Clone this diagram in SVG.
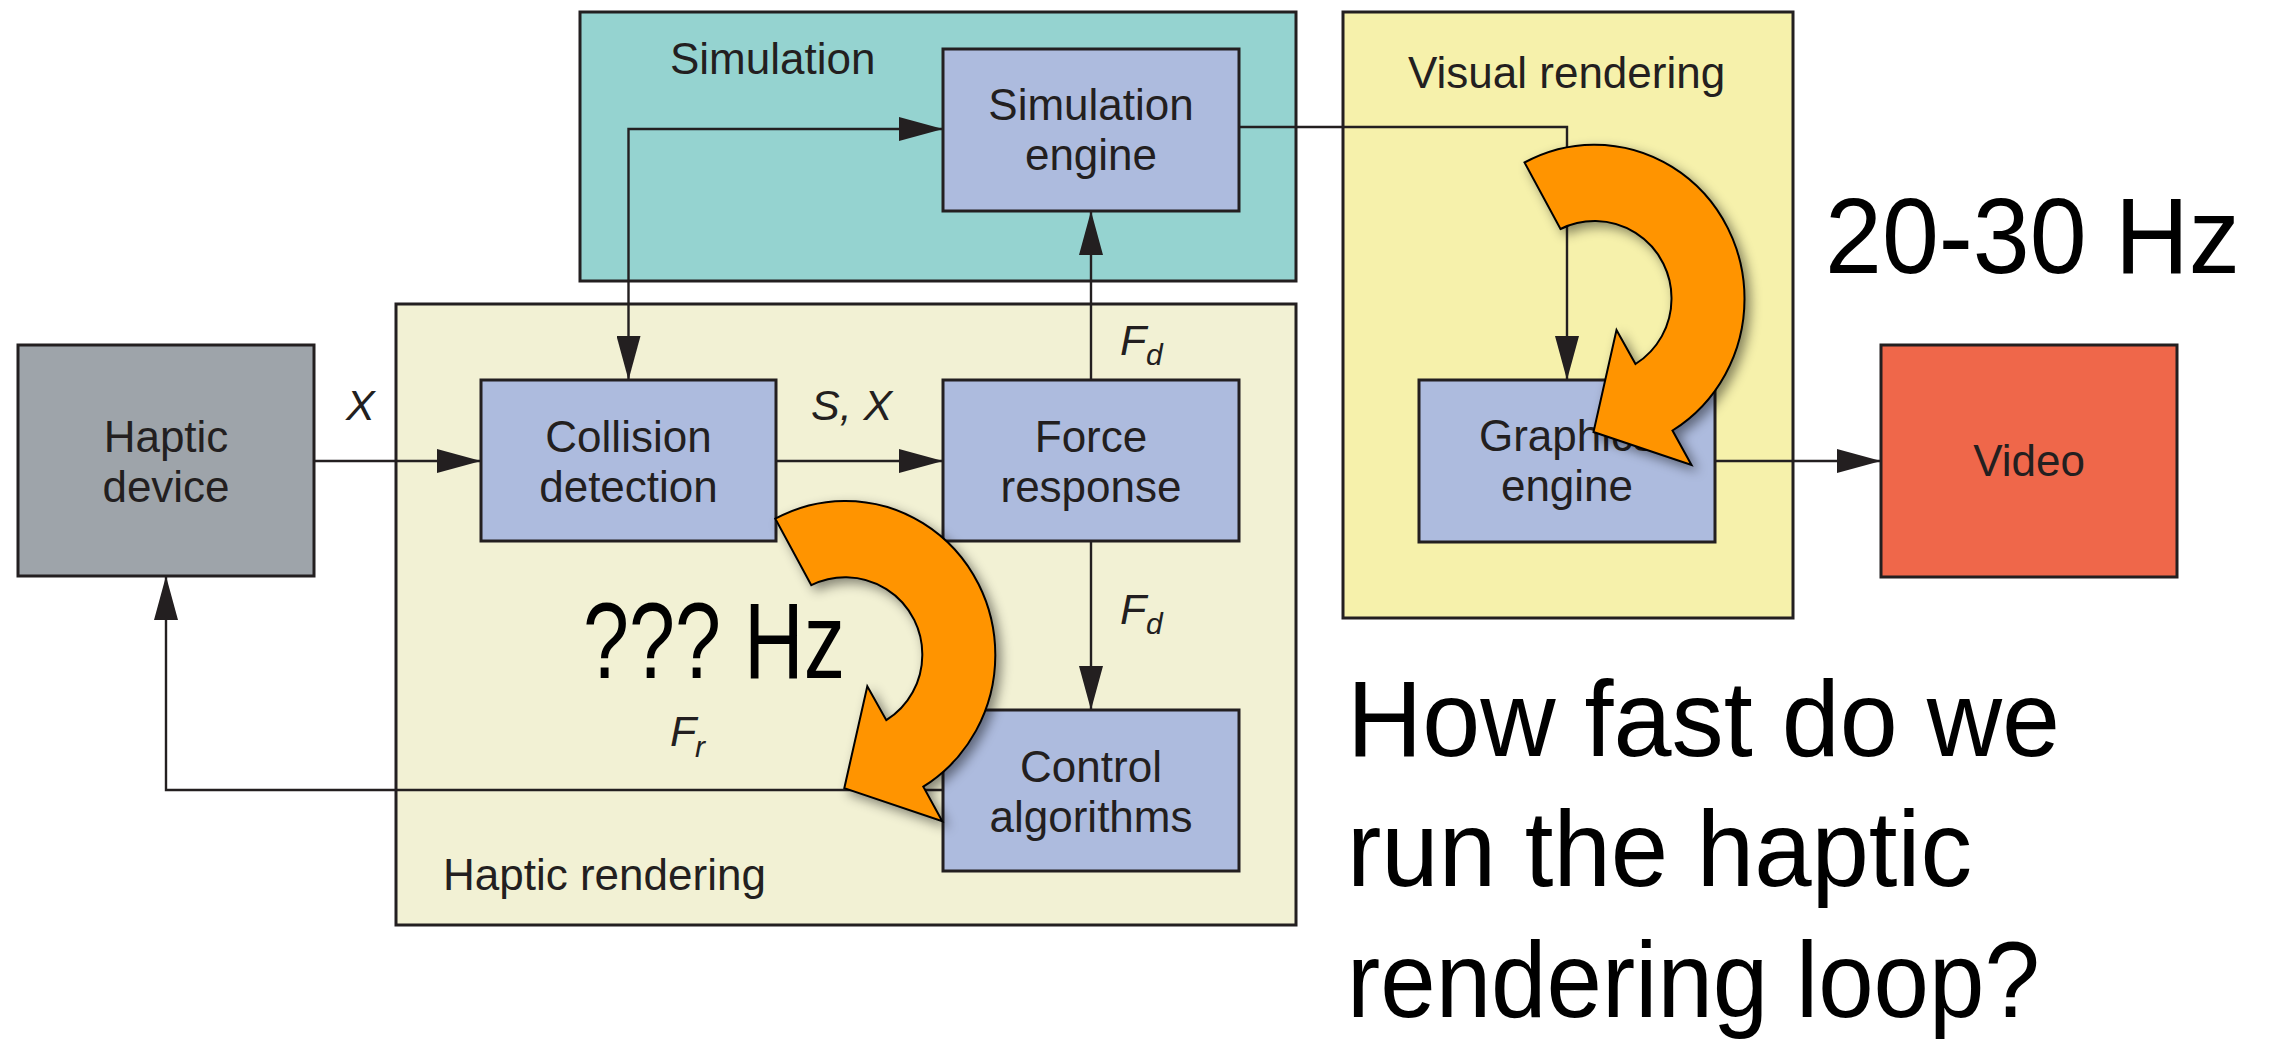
<svg xmlns="http://www.w3.org/2000/svg" width="2271" height="1039" viewBox="0 0 2271 1039">
  <style>
    .container { stroke: #231F20; stroke-width: 3; }
    .node { stroke: #231F20; stroke-width: 3; fill: #ADBBDE; }
    .lbl { font-family: "Liberation Sans", Arial, sans-serif; font-size: 44px; fill: #231F20; }
    .mid { text-anchor: middle; }
    .it { font-family: "Liberation Sans", Arial, sans-serif; font-size: 43px; font-style: italic; fill: #231F20; }
    .sub { font-size: 30px; }
    .conn { fill: none; stroke: #231F20; stroke-width: 2.4; }
    .big { font-family: "Liberation Sans", Arial, sans-serif; font-size: 108px; fill: #000000; }
    .loop { fill: #FF9402; stroke: #000000; stroke-width: 2; filter: url(#shadow); }
  </style>
  <defs>
    <marker id="arrow" markerUnits="userSpaceOnUse" markerWidth="44" markerHeight="24" refX="44" refY="12" orient="auto-start-reverse" viewBox="0 0 44 24">
      <path d="M0,0 L44,12 L0,24 Z" fill="#231F20"/>
    </marker>
    <filter id="shadow" x="-20%" y="-20%" width="150%" height="150%">
      <feDropShadow dx="5" dy="5" stdDeviation="6" flood-color="#000000" flood-opacity="0.45"/>
    </filter>
    <path id="loopArrow" d="M -70,-136.5 A 150 154 0 0 1 150 0 A 150 154 0 0 1 78 131.5 L 97 166 L -1 133 L 22 31 L 41 65 A 77 77 0 0 0 77 0 A 77 77 0 0 0 -34 -70 Z"/>
  </defs>

  <!-- containers -->
  <g id="simulation-group">
    <rect class="container" x="580" y="12" width="716" height="269" fill="#95D3D0"/>
    <text class="lbl" x="670" y="74">Simulation</text>
  </g>
  <g id="haptic-rendering-group">
    <rect class="container" x="396" y="304" width="900" height="621" fill="#F2F1D4"/>
    <text class="lbl" x="443" y="890">Haptic rendering</text>
  </g>
  <g id="visual-rendering-group">
    <rect class="container" x="1343" y="12" width="450" height="606" fill="#F6F1AB"/>
    <text class="lbl" x="1408" y="88">Visual rendering</text>
  </g>

  <!-- connectors -->
  <g id="connectors">
    <path class="conn" d="M314,461 H481" marker-end="url(#arrow)"/>
    <path class="conn" d="M776,461 H943" marker-end="url(#arrow)"/>
    <path class="conn" d="M628.5,380 V129 H943" marker-start="url(#arrow)" marker-end="url(#arrow)"/>
    <path class="conn" d="M1091,380 V211" marker-end="url(#arrow)"/>
    <path class="conn" d="M1091,541 V710" marker-end="url(#arrow)"/>
    <path class="conn" d="M943,790 H166 V576" marker-end="url(#arrow)"/>
    <path class="conn" d="M1239,127 H1567 V380" marker-end="url(#arrow)"/>
    <path class="conn" d="M1715,461 H1881" marker-end="url(#arrow)"/>
    <text class="it" x="346" y="420">X</text>
    <text class="it" x="811" y="420">S, X</text>
    <text class="it" x="1120" y="355">F<tspan class="sub" x="1146" y="365">d</tspan></text>
    <text class="it" x="1120" y="624">F<tspan class="sub" x="1146" y="634">d</tspan></text>
    <text class="it" x="670" y="746">F<tspan class="sub" x="695" y="757">r</tspan></text>
  </g>

  <!-- nodes -->
  <g id="haptic-device">
    <rect class="node" x="18" y="345" width="296" height="231" style="fill:#9EA4AA"/>
    <text class="lbl mid" x="166" y="452">Haptic</text>
    <text class="lbl mid" x="166" y="502">device</text>
  </g>
  <g id="collision-detection">
    <rect class="node" x="481" y="380" width="295" height="161"/>
    <text class="lbl mid" x="628.5" y="452">Collision</text>
    <text class="lbl mid" x="628.5" y="502">detection</text>
  </g>
  <g id="force-response">
    <rect class="node" x="943" y="380" width="296" height="161"/>
    <text class="lbl mid" x="1091" y="452">Force</text>
    <text class="lbl mid" x="1091" y="502">response</text>
  </g>
  <g id="simulation-engine">
    <rect class="node" x="943" y="49" width="296" height="162"/>
    <text class="lbl mid" x="1091" y="120">Simulation</text>
    <text class="lbl mid" x="1091" y="170">engine</text>
  </g>
  <g id="control-algorithms">
    <rect class="node" x="943" y="710" width="296" height="161"/>
    <text class="lbl mid" x="1091" y="782">Control</text>
    <text class="lbl mid" x="1091" y="832">algorithms</text>
  </g>
  <g id="graphics-engine">
    <rect class="node" x="1419" y="380" width="296" height="162"/>
    <text class="lbl mid" x="1567" y="451">Graphics</text>
    <text class="lbl mid" x="1567" y="501">engine</text>
  </g>
  <g id="video">
    <rect class="node" x="1881" y="345" width="296" height="232" style="fill:#EF674A"/>
    <text class="lbl mid" x="2029" y="476">Video</text>
  </g>

  <!-- annotations -->
  <g id="haptic-loop-label">
    <text class="big" x="583" y="678" textLength="262" lengthAdjust="spacingAndGlyphs">??? Hz</text>
  </g>
  <g id="visual-loop-label">
    <text class="big" x="1825" y="273" textLength="415" lengthAdjust="spacingAndGlyphs">20-30 Hz</text>
  </g>
  <g id="question">
    <text class="big" x="1347" y="756" textLength="713" lengthAdjust="spacingAndGlyphs">How fast do we</text>
    <text class="big" x="1347" y="886" textLength="625" lengthAdjust="spacingAndGlyphs">run the haptic</text>
    <text class="big" x="1347" y="1017" textLength="693" lengthAdjust="spacingAndGlyphs">rendering loop?</text>
  </g>

  <!-- loop arrows -->
  <g id="visual-loop-arrow">
    <use href="#loopArrow" class="loop" transform="translate(1594.5,299)"/>
  </g>
  <g id="haptic-loop-arrow">
    <use href="#loopArrow" class="loop" transform="translate(845.3,655.2)"/>
  </g>
</svg>
